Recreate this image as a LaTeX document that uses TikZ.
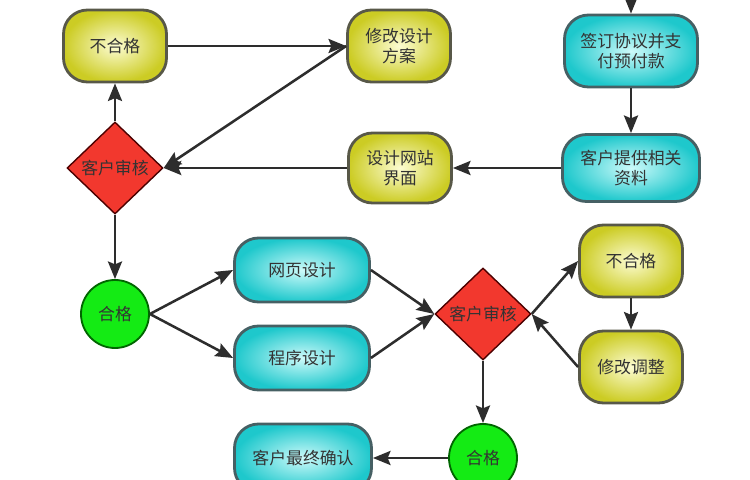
\documentclass[tikz,border=0pt]{standalone}
\usepackage{fontspec}
\newfontfamily\cjk{Noto Sans CJK SC}
\usetikzlibrary{arrows.meta,shapes.geometric}

\definecolor{boxyellow}{RGB}{204,204,36}
\definecolor{lightyellow}{RGB}{252,252,210}
\definecolor{boxcyan}{RGB}{30,200,204}
\definecolor{lightcyan}{RGB}{205,250,250}
\definecolor{edgegray}{RGB}{88,88,72}
\definecolor{edgeslate}{RGB}{70,96,100}
\definecolor{checkred}{RGB}{242,56,46}
\definecolor{passgreen}{RGB}{20,235,20}
\definecolor{darkline}{RGB}{45,45,45}

\begin{document}
\begin{tikzpicture}[->,>={Stealth[length=12.5pt,width=10pt,inset=2pt]}, line width=1.8pt,
    every edge/.style={draw=darkline},
    every node/.style={font=\cjk\fontsize{12}{14}\selectfont, text=black!80, align=center},
    fix/.style={rounded corners=0.6cm, draw=edgegray, line width=2pt, shading=radial,
        inner color=lightyellow, outer color=boxyellow, minimum width=2.575cm, minimum height=1.8cm},
    work/.style={rounded corners=0.6cm, draw=edgeslate, line width=2pt, shading=radial,
        inner color=lightcyan, outer color=boxcyan, minimum width=3.375cm, minimum height=1.6cm},
    check/.style={diamond, draw=black!70!red, line width=1pt, fill=checkred, inner sep=0pt,
        minimum width=2.4cm, minimum height=2.3cm},
    pass/.style={circle, draw=black!60!green, line width=1.3pt, fill=passgreen,
        minimum size=1.7cm, inner sep=0pt}
    ]
\useasboundingbox (0,0) rectangle (18.75,12);
\clip (0,0) rectangle (18.75,12);
\node[fix]  (ng1)  at (2.875,10.85)  {不合格};
\node[fix]  (xgfa) at (9.975,10.85)  {修改设计\\方案};
\node[work, minimum width=3.325cm, minimum height=1.8cm] (qd) at (15.775,10.725) {签订协议并支\\付预付款};
\node[work, minimum width=3.425cm, minimum height=1.675cm] (tg) at (15.775,7.8) {客户提供相关\\资料};
\node[fix, minimum height=1.75cm] (sj) at (10.0,7.8) {设计网站\\界面};
\node[check] (sh1) at (2.875,7.8)   {客户审核};
\node[pass]  (hg1) at (2.875,4.15)  {合格};
\node[work]  (wy)  at (7.55,5.25)   {网页设计};
\node[work]  (cx)  at (7.55,3.05)   {程序设计};
\node[check] (sh2) at (12.075,4.15) {客户审核};
\node[fix]   (ng2) at (15.775,5.475) {不合格};
\node[fix]   (xgtz) at (15.775,2.825) {修改调整};
\node[pass]  (hg2) at (12.075,0.55) {合格};
\node[work, minimum width=3.425cm, minimum height=1.7cm] (qr) at (7.575,0.55) {客户最终确认};
\coordinate (prev) at (15.775,12.6);
\path
(prev)      edge (qd)
(qd)        edge (tg)
(tg)        edge (sj)
(sj)        edge (sh1.east)
(ng1)       edge (xgfa.west)
(xgfa.west) edge (sh1.east)
(sh1)       edge (ng1)
(sh1)       edge (hg1)
(hg1.east)  edge (wy.west)
(hg1.east)  edge (cx.west)
(wy.east)   edge (sh2.west)
(cx.east)   edge (sh2.west)
(sh2.east)  edge (ng2.west)
(ng2)       edge (xgtz)
(xgtz.west) edge (sh2.east)
(sh2)       edge (hg2)
(hg2)       edge (qr)
;
\end{tikzpicture}
\end{document}
